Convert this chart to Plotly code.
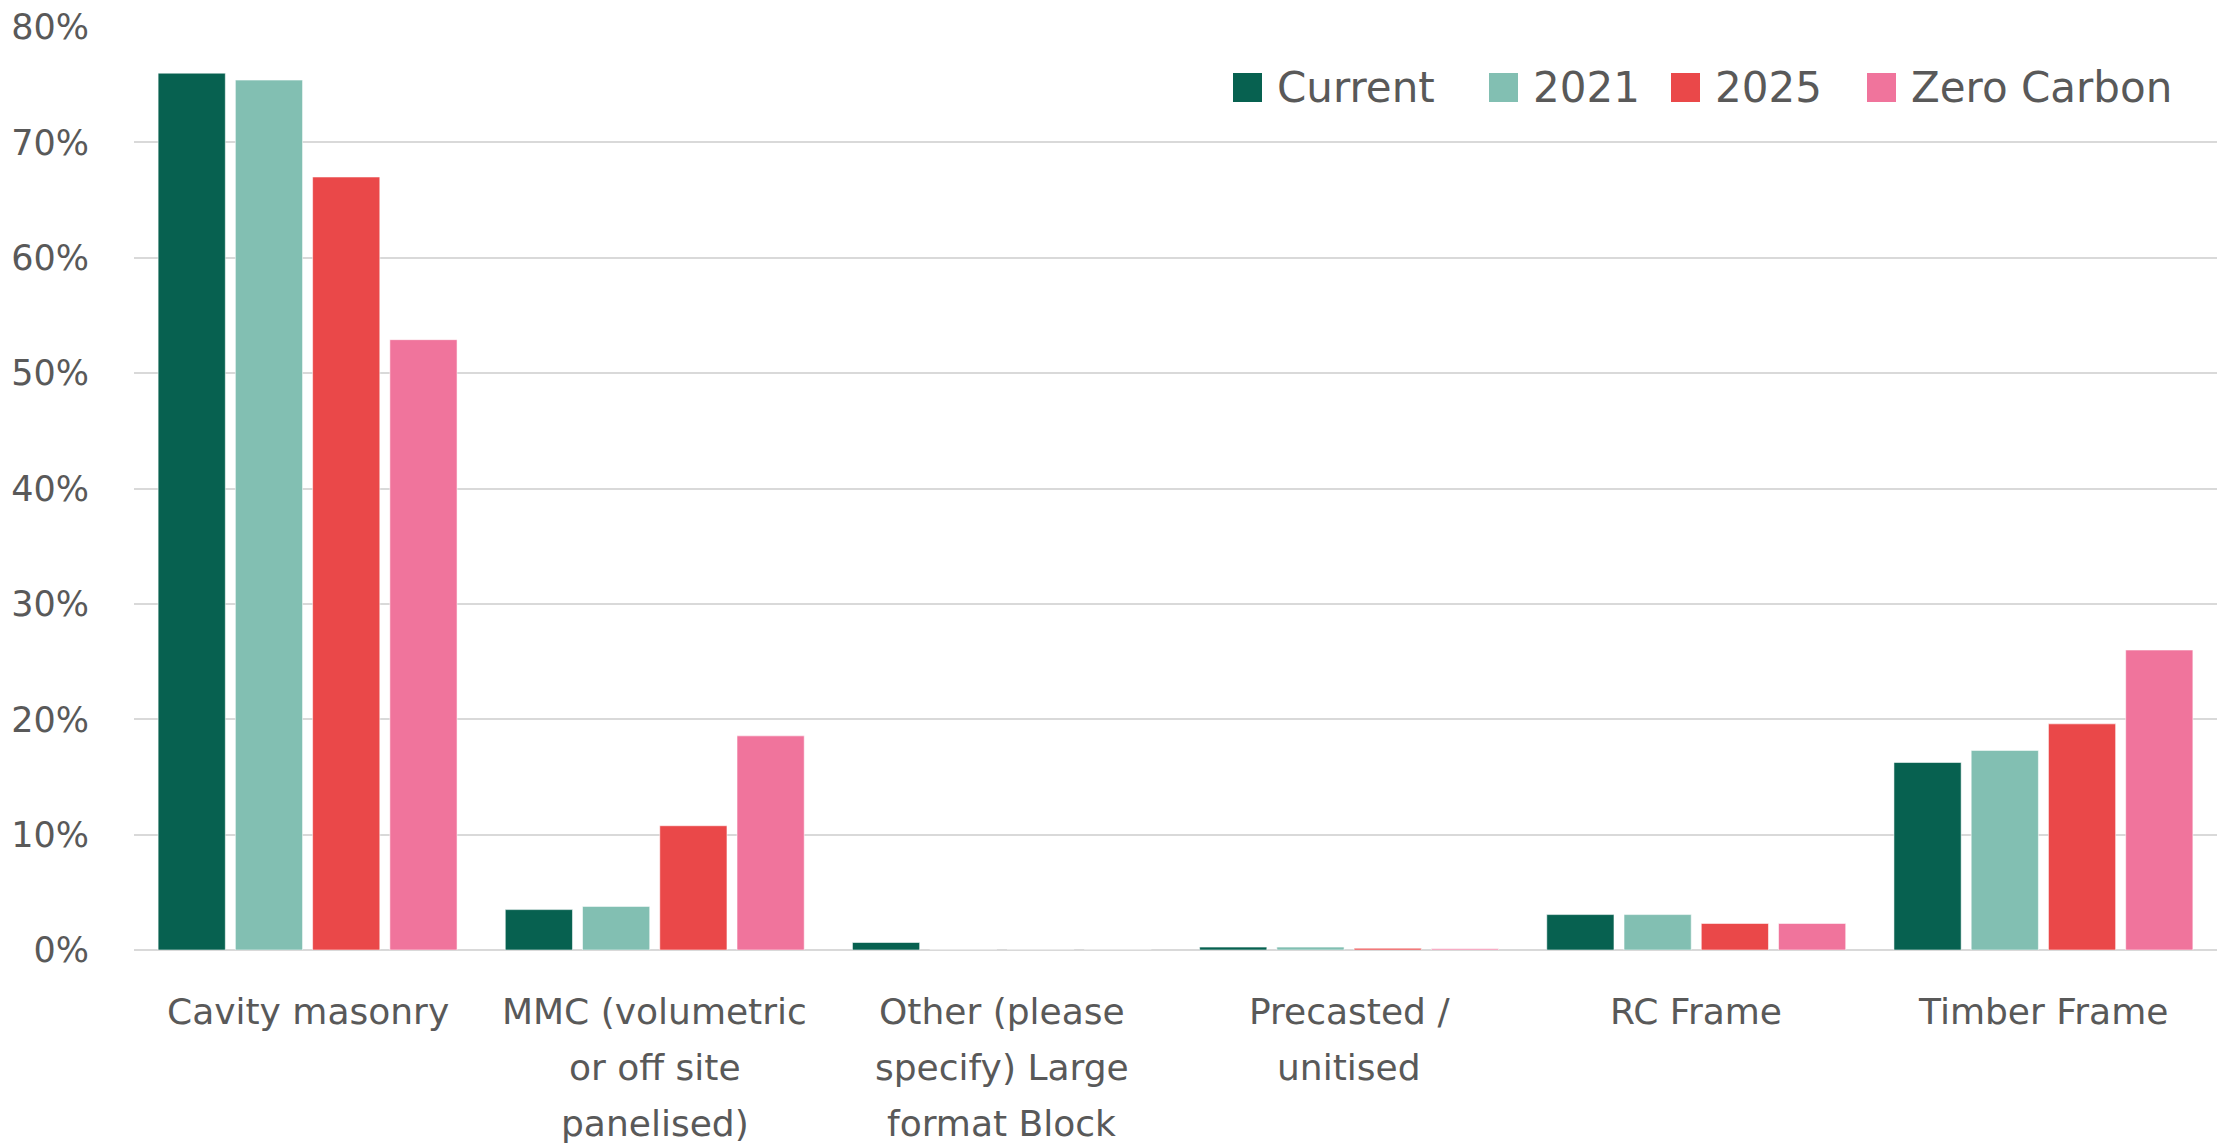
import plotly.graph_objects as go

# Wall construction types (one list of text lines per category) and
# share of responses per timeframe (%)
category_lines = [
    ["Cavity masonry"],
    ["MMC (volumetric", "or off site", "panelised)"],
    ["Other (please", "specify) Large", "format Block"],
    ["Precasted /", "unitised"],
    ["RC Frame"],
    ["Timber Frame"],
]
categories = [" ".join(lines) for lines in category_lines]

current = [76.0, 3.5, 0.65, 0.25, 3.07, 16.25]
y2021 = [75.4, 3.78, 0.0, 0.25, 3.07, 17.3]
y2025 = [67.0, 10.77, 0.0, 0.15, 2.3, 19.6]
zero_carbon = [52.9, 18.56, 0.0, 0.1, 2.3, 26.0]

series_names = ["Current", "2021", "2025", "Zero Carbon"]
series_values = [current, y2021, y2025, zero_carbon]
colors = ["#076150", "#82BFB2", "#EA4849", "#F0749C"]

y_ticks = [0, 10, 20, 30, 40, 50, 60, 70, 80]
y_tick_labels = [f"{v}%" for v in y_ticks]

FONT = "DejaVu Sans"
TEXT = "#595959"
GRID = "#D9D9D9"

W, H = 2227, 1144
M_L, M_R, M_T, M_B = 134, 10, 27, 194
plot_w = W - M_L - M_R
plot_h = H - M_T - M_B
base_px = H - M_B


def px_x(px):
    return (px - M_L) / plot_w


def px_y(py):
    return (base_px - py) / plot_h


fig = go.Figure()
for name, vals, col in zip(series_names, series_values, colors):
    fig.add_trace(go.Bar(
        x=categories, y=vals, name=name,
        marker=dict(color=col, line=dict(color="rgba(255,255,255,0.55)", width=1)),
        showlegend=False,
    ))

# Category labels below the axis, one annotation per text line
line_gap = 56
first_line_cy = 1011
for cat, lines in zip(categories, category_lines):
    for i, line in enumerate(lines):
        fig.add_annotation(
            xref="x", yref="paper", x=cat,
            y=px_y(first_line_cy + i * line_gap),
            xanchor="center", yanchor="middle",
            text=line, showarrow=False,
            font=dict(family=FONT, size=36, color=TEXT),
        )

# Legend drawn as swatches + labels along the top right of the plot area
legend_swatch_x = [1233, 1489, 1671, 1867]   # left edge of each swatch, px
swatch = 29
legend_cy = 87.5
for name, col, sx in zip(series_names, colors, legend_swatch_x):
    fig.add_shape(
        type="rect", xref="paper", yref="paper",
        x0=px_x(sx), x1=px_x(sx + swatch),
        y0=px_y(legend_cy + swatch / 2), y1=px_y(legend_cy - swatch / 2),
        fillcolor=col, line=dict(width=0),
    )
    fig.add_annotation(
        xref="paper", yref="paper",
        x=px_x(sx + swatch + 13), y=px_y(legend_cy),
        xanchor="left", yanchor="middle",
        text=name, showarrow=False,
        font=dict(family=FONT, size=42, color=TEXT),
    )

fig.update_layout(
    width=W, height=H,
    margin=dict(l=M_L, r=M_R, t=M_T, b=M_B, pad=0, autoexpand=False),
    paper_bgcolor="white", plot_bgcolor="white",
    barmode="group", bargap=0.11, bargroupgap=0.13,
    font=dict(family=FONT, color=TEXT),
)
fig.update_yaxes(
    range=[0, 80], tickvals=y_ticks, ticktext=y_tick_labels,
    showgrid=True, gridcolor=GRID, gridwidth=2,
    zeroline=True, zerolinecolor=GRID, zerolinewidth=2,
    showline=False, ticks="", ticklabelstandoff=44, automargin=False,
    tickfont=dict(family=FONT, size=35, color=TEXT),
)
fig.update_xaxes(
    showgrid=False, showline=False, ticks="",
    showticklabels=False, automargin=False,
)

fig.write_html("out.html")
